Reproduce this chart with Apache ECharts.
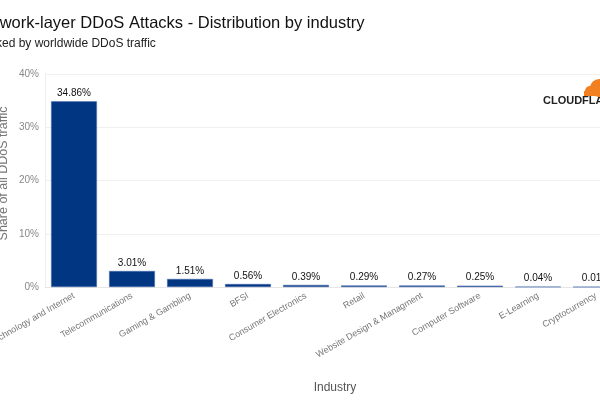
<!DOCTYPE html>
<html><head><meta charset="utf-8">
<script src="https://cdn.jsdelivr.net/npm/echarts@6/dist/echarts.min.js"></script>
<style>html,body{margin:0;padding:0;background:#fff}#c{width:600px;height:400px}</style>
</head><body><div id="c"></div>
<script>
const categories = ["Technology and Internet","Telecommunications","Gaming & Gambling","BFSI","Consumer Electronics","Retail","Website Design & Managment","Computer Software","E-Learning","Cryptocurrency"];
const values = [34.86, 3.01, 1.51, 0.56, 0.39, 0.29, 0.27, 0.25, 0.04, 0.01];
const yTicks = [0, 10, 20, 30, 40];

const chart = echarts.init(document.getElementById('c'));
chart.setOption({
  backgroundColor: '#fff',
  animation: false,
  title: {
    text: 'Network-layer DDoS Attacks - Distribution by industry',
    subtext: 'Ranked by worldwide DDoS traffic',
    left: -31, top: 10, itemGap: 6,
    textStyle: {fontFamily: 'Liberation Sans', fontSize: 16.5, fontWeight: 'normal', color: '#111'},
    subtextStyle: {fontFamily: 'Liberation Sans', fontSize: 12, color: '#222'}
  },
  graphic: [
    {type: 'text', left: 543, top: 95, style: {text: 'CLOUDFLARE', font: 'bold 11px Liberation Sans', fill: '#222', letterSpacing: 2}},
    {type: 'circle', shape: {cx: 599, cy: 88, r: 9}, style: {fill: '#f38020'}},
    {type: 'circle', shape: {cx: 590, cy: 91, r: 5}, style: {fill: '#f38020'}},
    {type: 'rect', shape: {x: 584, y: 91, width: 20, height: 5}, style: {fill: '#f38020'}}
  ],
  grid: {left: 45, top: 74, width: 580, height: 213, containLabel: false, outerBoundsMode: 'none'},
  xAxis: {
    type: 'category', data: categories,
    name: 'Industry', nameLocation: 'middle', nameGap: 95,
    nameTextStyle: {fontFamily: 'Liberation Sans', fontSize: 12, color: '#555'},
    axisLine: {lineStyle: {color: '#e6e6e6'}},
    axisTick: {show: false},
    axisLabel: {rotate: 30, interval: 0, fontFamily: 'Liberation Sans', fontSize: 9, color: '#777', margin: 8}
  },
  yAxis: {
    type: 'value', min: yTicks[0], max: yTicks[yTicks.length-1], interval: 10,
    name: 'Share of all DDoS traffic', nameLocation: 'middle', nameGap: 35, nameMoveOverlap: false,
    nameTextStyle: {fontFamily: 'Liberation Sans', fontSize: 12.5, color: '#777', padding: [0, 0, 0, 14]},
    axisLine: {show: true, lineStyle: {color: '#eeeeee'}},
    axisLabel: {formatter: '{value}%', fontFamily: 'Liberation Sans', fontSize: 10, color: '#888', margin: 6},
    splitLine: {lineStyle: {color: '#f0f0f0'}}
  },
  series: [{
    type: 'bar', data: values, barWidth: '79%',
    itemStyle: {color: '#003682', borderColor: '#4a6fb0', borderWidth: 0.5},
    label: {show: true, position: 'top', formatter: p => p.value.toFixed(2) + '%', fontFamily: 'Liberation Sans', fontSize: 10, color: '#111', distance: 3}
  }]
});
</script></body></html>
